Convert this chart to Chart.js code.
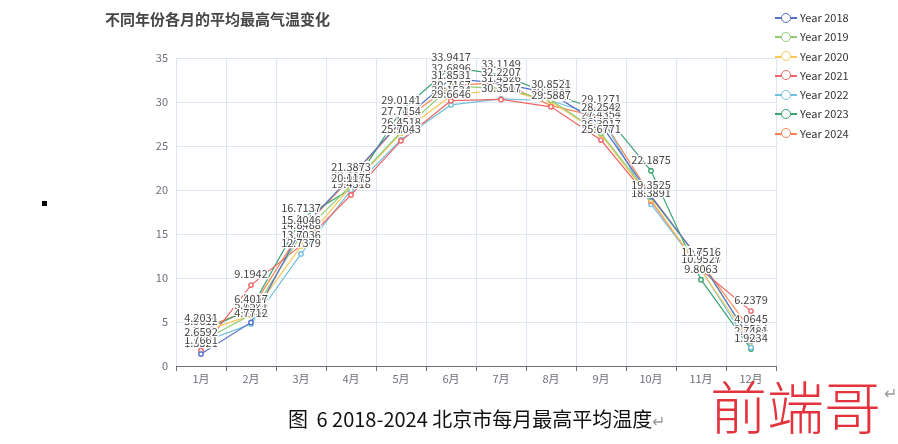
<!DOCTYPE html>
<html>
<head>
<meta charset="utf-8">
<script src="https://cdn.jsdelivr.net/npm/chart.js@4.4.1/dist/chart.umd.min.js"></script>
<style>
  body { margin: 0; background: #fff; width: 898px; height: 444px; overflow: hidden; position: relative;
         font-family: "Noto Sans CJK SC", "Noto Sans", sans-serif; }
  #wrap { position: absolute; left: 0; top: 0; width: 898px; height: 444px; }
  .title { position: absolute; left: 105px; top: 8px; font-size: 15px; font-weight: bold; color: #464646; }
  .legend { position: absolute; left: 775px; top: 8px; }
  .item { position: relative; height: 19.3px; font-size: 11px; color: #333; line-height: 19px; }
  .item .ln { position: absolute; left: 0; top: 9px; width: 22px; height: 2px; }
  .item .dot { position: absolute; left: 6px; top: 4.5px; width: 8px; height: 8px; border-radius: 50%;
               border: 1.6px solid; background: #fff; }
  .item span { position: absolute; left: 25px; top: 0; white-space: nowrap; }
  .caption { position: absolute; left: 288px; top: 404px; font-size: 20px; color: #111; white-space: nowrap; }
  .caption .gap { display: inline-block; width: 4px; }
  .ret { color: #999; font-size: 16px; }
  .mark { position: absolute; left: 710px; top: 372px; font-size: 57px; font-weight: 300; color: #e3343e; line-height: 64px; white-space: nowrap; }
  .mark .ret { position: absolute; left: 174px; top: 12px; font-size: 16px; line-height: 16px; }
  .sq { position: absolute; left: 42px; top: 201px; width: 5px; height: 5px; background: #000; }
</style>
</head>
<body>
<div id="wrap"><canvas id="c" width="898" height="444"></canvas></div>
<div class="title">不同年份各月的平均最高气温变化</div>
<div class="legend" id="legend"></div>
<div class="caption">图<span class="gap"></span> 6 2018-2024 北京市每月最高平均温度<span class="ret">↵</span></div>
<div class="mark">前端哥<span class="ret">↵</span></div>
<div class="sq"></div>
<script>
// months and years
var months = ['1月','2月','3月','4月','5月','6月','7月','8月','9月','10月','11月','12月'];
var years = ['Year 2018','Year 2019','Year 2020','Year 2021','Year 2022','Year 2023','Year 2024'];
var colors = ['#5470c6','#91cc75','#fac858','#ee6666','#73c0de','#3ba272','#fc8452'];

// average max temperature per month, one array per year
var y2018 = [1.3521, 4.9554, 15.5282, 21.5292, 27.7883, 32.6896, 32.1083, 30.9778, 27.4354, 19.2661, 11.8771, 2.8598];
var y2019 = [2.7762, 5.8103, 14.8488, 20.5531, 26.5927, 31.7792, 31.5685, 30.1915, 26.4512, 19.1527, 11.8012, 2.9514];
var y2020 = [3.8488, 5.7521, 13.6214, 20.4463, 26.4518, 30.7167, 31.4526, 30.0532, 26.3017, 18.9042, 10.8536, 2.7481];
var y2021 = [1.7661, 9.1942, 13.7036, 19.4318, 25.5867, 30.1524, 30.2903, 29.4512, 25.6771, 18.7519, 10.9325, 6.2379];
var y2022 = [2.6592, 4.7712, 12.7379, 19.9854, 25.7043, 29.6646, 30.3517, 30.1436, 28.3188, 18.3891, 10.9527, 2.1046];
var y2023 = [3.9012, 6.5134, 16.7137, 20.1175, 29.0141, 33.9417, 33.1149, 30.8521, 29.1271, 22.1875, 9.8063, 1.9234];
var y2024 = [4.2031, 6.4017, 15.4046, 21.3873, 27.7154, 31.8531, 32.2207, 29.5887, 28.2542, 19.3525, 11.7516, 4.0645];
var series = [y2018, y2019, y2020, y2021, y2022, y2023, y2024];

var yTicks = { min: 0, max: 35, step: 5 };

// html legend
var lg = document.getElementById('legend');
years.forEach(function(name, i){
  var d = document.createElement('div');
  d.className = 'item';
  d.innerHTML = '<div class="ln" style="background:'+colors[i]+'"></div>' +
    '<div class="dot" style="border-color:'+colors[i]+'"></div><span>'+name+'</span>';
  lg.appendChild(d);
});

// labels above each point
var pointLabels = {
  id: 'pointLabels',
  afterDatasetsDraw: function(chart) {
    var ctx = chart.ctx;
    ctx.save();
    ctx.font = '11px "Noto Sans CJK SC", "Noto Sans", sans-serif';
    ctx.textAlign = 'center';
    ctx.textBaseline = 'middle';
    ctx.lineJoin = 'round';
    chart.data.datasets.forEach(function(ds, i){
      var meta = chart.getDatasetMeta(i);
      meta.data.forEach(function(pt, j){
        var t = ds.data[j].toFixed(4);
        ctx.strokeStyle = '#fff';
        ctx.lineWidth = 2.5;
        ctx.strokeText(t, pt.x, pt.y - 11);
        ctx.fillStyle = '#444';
        ctx.fillText(t, pt.x, pt.y - 11);
      });
    });
    ctx.restore();
  }
};

var ctx = document.getElementById('c').getContext('2d');
var myChart = new Chart(ctx, {
  type: 'line',
  data: {
    labels: months,
    datasets: series.map(function(s, i){
      return {label: years[i], data: s, borderColor: colors[i], backgroundColor: '#fff',
        borderWidth: 1.2, pointRadius: 2.2, pointBorderWidth: 1.4, pointBackgroundColor: '#fff',
        pointBorderColor: colors[i], tension: 0, fill: false};
    })
  },
  options: {
    responsive: false,
    animation: false,
    layout: {padding: {left: 0, right: 122, top: 58, bottom: 48}},
    plugins: {legend: {display: false}, title: {display: false}, tooltip: {enabled: false}},
    scales: {
      x: {
        offset: true,
        grid: {offset: true, color: '#e0e6f1', tickColor: '#6e7079', tickLength: 5, lineWidth: 1},
        border: {color: '#6e7079'},
        ticks: {color: '#6e7079', font: {size: 11, family: '"Noto Sans CJK SC", sans-serif'}, padding: 1, maxRotation: 0, autoSkip: false},
        afterFit: function(s){ s.height = 30; }
      },
      y: {
        min: yTicks.min, max: yTicks.max,
        ticks: {stepSize: yTicks.step, color: '#6e7079', padding: 8, font: {size: 11, family: '"Noto Sans CJK SC", sans-serif'}},
        grid: {color: '#e0e6f1', drawTicks: false},
        border: {display: false},
        afterFit: function(s){ s.width = 176; }
      }
    }
  },
  plugins: [pointLabels]
});
</script>
</body>
</html>
